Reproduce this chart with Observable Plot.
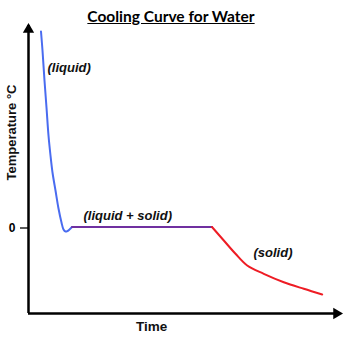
<!DOCTYPE html>
<html><head><meta charset="utf-8">
<script src="https://cdn.jsdelivr.net/npm/d3@7"></script>
<script src="https://cdn.jsdelivr.net/npm/@observablehq/plot@0.6"></script>
<style>
body{margin:0;background:#fff;}
#wrap{position:relative;width:350px;height:356px;}
#title{position:absolute;top:7px;left:0;width:342px;text-align:center;font:bold 15.5px Lato,"Open Sans",sans-serif;text-decoration:underline;color:#000;}
</style></head>
<body><div id="wrap"><div id="title">Cooling Curve for Water</div></div>
<script>
// liquid cooling segment
const liquidTime = [1.25,1.4,1.6,1.8,2.0,2.2,2.4,2.7,3.0,3.3,3.5,3.7,3.9,4.1,4.35];
const liquidTemp = [19.55,17.65,14.65,11.95,9.15,7.15,5.45,3.65,1.85,0.45,-0.25,-0.45,-0.4,-0.25,0];
// freezing plateau
const plateauTime = [4.35,18.35];
const plateauTemp = [0,0];
// solid cooling segment
const solidTime = [18.35,19.53,20.7,21.87,23.53,25.53,27.53,29.37];
const solidTemp = [0,-1.35,-2.68,-3.85,-4.68,-5.52,-6.18,-6.75];
// phase labels
const phaseLabels = ["(liquid)","(liquid + solid)","(solid)"];
const phaseTime = [1.9,5.5,22.5];
const phaseTemp = [15.95,1.15,-2.55];
const yTicks = [0];
const xLabel = "Time";
const yLabel = "Temperature °C";

const tMin = 0, tMax = 31.2, yMin = -8.65, yMax = 20.15;
const toRows = (xs, ys) => xs.map((x,i)=>({x, y: ys[i]}));
const labels = phaseLabels.map((t,i)=>({t, x: phaseTime[i], y: phaseTemp[i]}));
const sans = "Liberation Sans, Arial, sans-serif";

const chart = Plot.plot({
  width: 350, height: 356,
  marginLeft: 28, marginRight: 10, marginTop: 25, marginBottom: 43,
  x: {domain: [tMin, tMax], axis: null},
  y: {domain: [yMin, yMax], axis: null},
  style: {background: "white"},
  marks: [
    Plot.axisY({ticks: yTicks, tickSize: 8, tickPadding: 5, label: null, tickFormat: d => String(d),
      fontSize: 12, fontWeight: "bold", fontFamily: sans, strokeWidth: 1.3, dy: 1}),
    Plot.ruleX([tMin], {stroke: "black", strokeWidth: 2.5}),
    Plot.ruleY([yMin], {stroke: "black", strokeWidth: 2.5}),
    Plot.dot([{x: tMin, y: yMax}], {x: "x", y: "y", symbol: "triangle", r: 4.2, fill: "black", stroke: null, dy: 4}),
    Plot.dot([{x: tMax, y: yMin}], {x: "x", y: "y", symbol: "triangle", r: 4.2, fill: "black", stroke: null, rotate: 90, dx: -4}),
    Plot.line(toRows(liquidTime, liquidTemp), {x: "x", y: "y", stroke: "#4a6cf0", strokeWidth: 2, curve: "catmull-rom"}),
    Plot.line(toRows(plateauTime, plateauTemp), {x: "x", y: "y", stroke: "#7030a0", strokeWidth: 2}),
    Plot.line(toRows(solidTime, solidTemp), {x: "x", y: "y", stroke: "#ee1c24", strokeWidth: 2, curve: "catmull-rom"}),
    Plot.text(labels, {x: "x", y: "y", text: "t", textAnchor: "start", fontSize: 13, fontWeight: "bold", fontStyle: "italic",
      fontFamily: sans, fill: "#111"}),
    Plot.text([xLabel], {x: 12.3, frameAnchor: "bottom", dy: 8, fontSize: 13.5, fontWeight: "bold", fontFamily: sans, fill: "#111", lineAnchor: "top"}),
    Plot.text([yLabel], {y: 9.45, frameAnchor: "left", textAnchor: "middle", dx: -17, rotate: -90, fontSize: 13, fontWeight: "bold", fontFamily: sans, fill: "#111"})
  ]
});
document.getElementById("wrap").prepend(chart);
</script></body></html>
